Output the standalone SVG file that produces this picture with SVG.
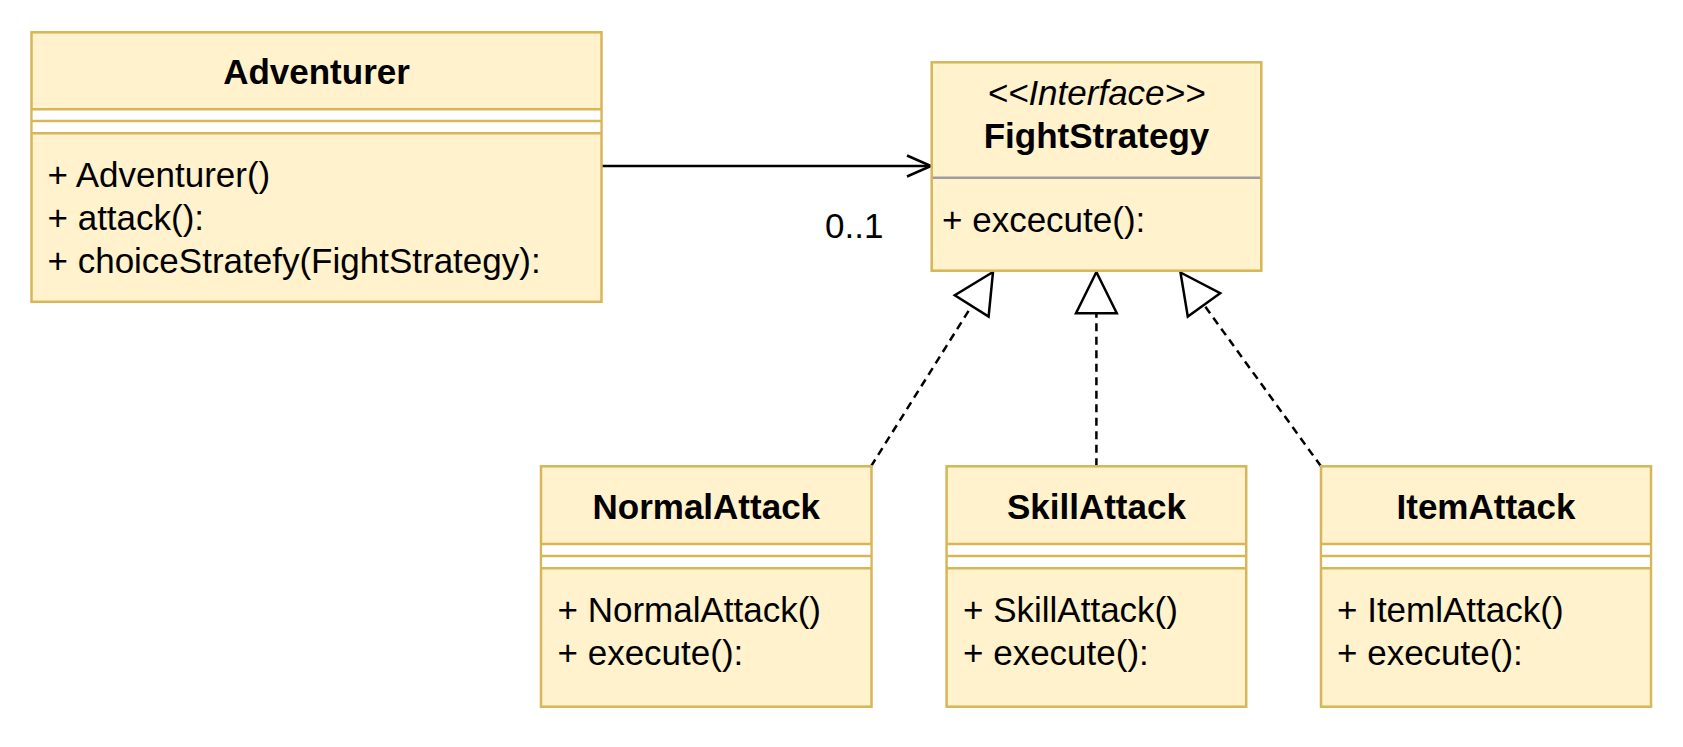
<svg xmlns="http://www.w3.org/2000/svg" width="1683" height="747" viewBox="0 0 1683 747">
<style>
.box{fill:#fff2cc;stroke:#d6b656;stroke-width:2.5}
.band{fill:#ffffff;stroke:none}
.sep{stroke:#d6b656;stroke-width:2.5;fill:none}
.gsep{stroke:#9e9e9e;stroke-width:2.5;fill:none}
text{font-family:"Liberation Sans",Arial,Helvetica,sans-serif;font-size:35px;fill:#000}
.t{font-weight:bold;text-anchor:middle}
.st{font-style:italic;text-anchor:middle}
.conn{stroke:#000;stroke-width:2.5;fill:none}
.dash{stroke-dasharray:8 5.5}
.tri{fill:#fff;stroke:#000;stroke-width:2.5;stroke-linejoin:miter}
</style>
<rect width="1683" height="747" fill="#ffffff"/>
<g id="connectors">
<line class="conn" x1="602" y1="166" x2="930" y2="166"/>
<polyline class="conn" points="907,155.5 931,166 907,176.5"/>
<line class="conn dash" x1="871" y1="466.3" x2="971.7" y2="305.9"/>
<polygon class="tri" points="993,272 954.8,295.3 988.6,316.5"/>
<line class="conn dash" x1="1096.4" y1="466.3" x2="1096.4" y2="313.3"/>
<polygon class="tri" points="1096.4,272 1076,313.3 1116.8,313.3"/>
<line class="conn dash" x1="1321" y1="466.3" x2="1204" y2="304.9"/>
<polygon class="tri" points="1180.5,272.5 1220.2,293.2 1187.8,316.6"/>
<text x="825" y="238">0..1</text>
</g>
<g id="Adventurer">
<rect class="box" x="31.5" y="32.3" width="570" height="269.5"/>
<rect class="band" x="32.8" y="109.3" width="567.4" height="24"/>
<line class="sep" x1="31.5" y1="109.3" x2="601.5" y2="109.3"/>
<line class="sep" x1="31.5" y1="121" x2="601.5" y2="121"/>
<line class="sep" x1="31.5" y1="133.3" x2="601.5" y2="133.3"/>
<text class="t" x="316.5" y="84">Adventurer</text>
<text x="47.5" y="187">+ Adventurer()</text>
<text x="47.5" y="230">+ attack():</text>
<text x="47.5" y="273">+ choiceStratefy(FightStrategy):</text>
</g>
<g id="FightStrategy">
<rect class="box" x="931.7" y="62.3" width="329.6" height="208.4"/>
<line class="gsep" x1="932.9" y1="177.7" x2="1260" y2="177.7"/>
<text class="st" x="1096.5" y="105">&lt;&lt;Interface&gt;&gt;</text>
<text class="t" x="1096.5" y="148">FightStrategy</text>
<text x="942" y="231.5">+ excecute():</text>
</g>
<g id="NormalAttack">
<rect class="box" x="541" y="466.3" width="330.5" height="240.4"/>
<rect class="band" x="542.3" y="544" width="328" height="24.3"/>
<line class="sep" x1="541" y1="544" x2="871.5" y2="544"/>
<line class="sep" x1="541" y1="556" x2="871.5" y2="556"/>
<line class="sep" x1="541" y1="568.3" x2="871.5" y2="568.3"/>
<text class="t" x="706.3" y="518.5">NormalAttack</text>
<text x="557.5" y="622">+ NormalAttack()</text>
<text x="557.5" y="665">+ execute():</text>
</g>
<g id="SkillAttack">
<rect class="box" x="946.6" y="466.3" width="299.6" height="240.4"/>
<rect class="band" x="947.9" y="544" width="297" height="24.3"/>
<line class="sep" x1="946.6" y1="544" x2="1246.2" y2="544"/>
<line class="sep" x1="946.6" y1="556" x2="1246.2" y2="556"/>
<line class="sep" x1="946.6" y1="568.3" x2="1246.2" y2="568.3"/>
<text class="t" x="1096.4" y="518.5">SkillAttack</text>
<text x="963" y="622">+ SkillAttack()</text>
<text x="963" y="665">+ execute():</text>
</g>
<g id="ItemAttack">
<rect class="box" x="1321" y="466.3" width="330" height="240.4"/>
<rect class="band" x="1322.3" y="544" width="327.4" height="24.3"/>
<line class="sep" x1="1321" y1="544" x2="1651" y2="544"/>
<line class="sep" x1="1321" y1="556" x2="1651" y2="556"/>
<line class="sep" x1="1321" y1="568.3" x2="1651" y2="568.3"/>
<text class="t" x="1486" y="518.5">ItemAttack</text>
<text x="1337" y="622">+ ItemlAttack()</text>
<text x="1337" y="665">+ execute():</text>
</g>
</svg>
